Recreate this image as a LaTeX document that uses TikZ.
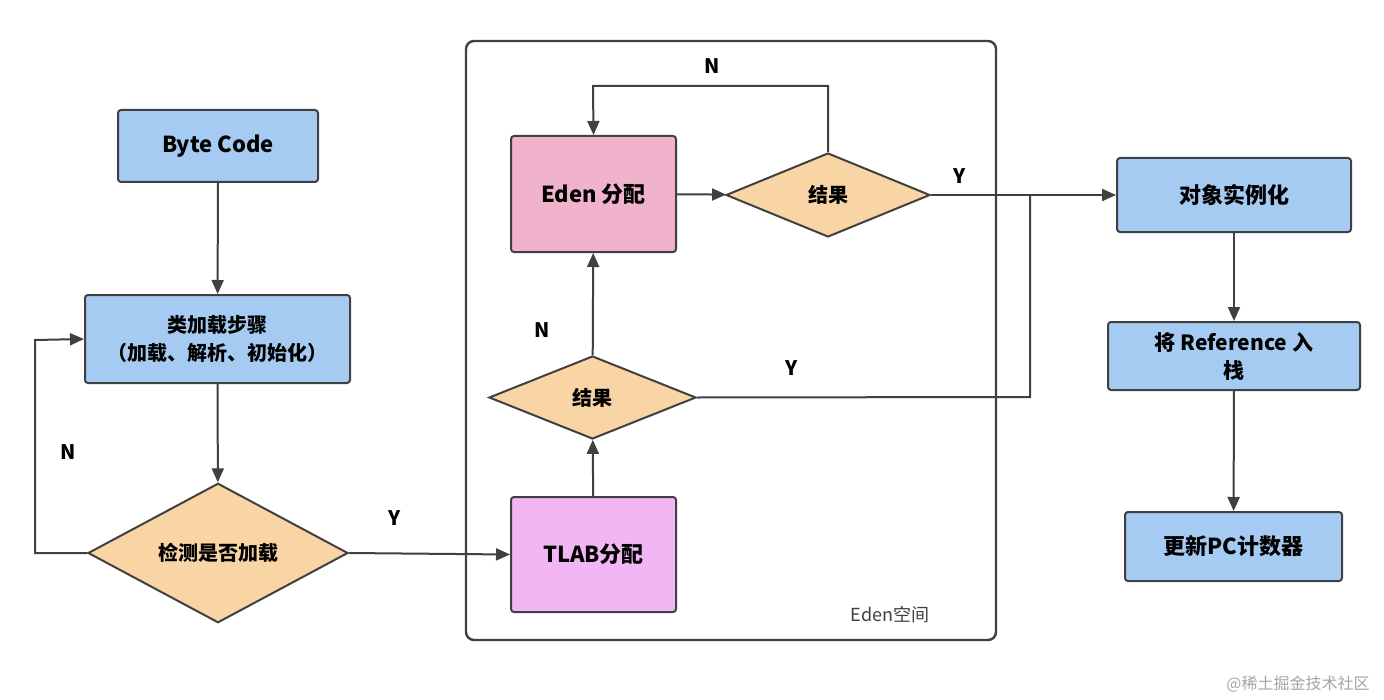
\documentclass[tikz,border=0pt]{standalone}
\usepackage{fontspec}
\setmainfont{Noto Sans CJK SC}
\usetikzlibrary{arrows.meta,shapes.geometric}
\definecolor{bl}{HTML}{A6CBF3}
\definecolor{pk}{HTML}{F1B3CB}
\definecolor{mg}{HTML}{F3B6F5}
\definecolor{dm}{HTML}{F9D5A5}
\definecolor{ln}{HTML}{404040}
\begin{document}
\begin{tikzpicture}[x=0.5pt,y=-0.5pt,
 box/.style={draw=ln,line width=1pt,rounded corners=1.5pt,align=center,font=\bfseries\fontsize{11}{14}\selectfont,inner sep=0pt},
 dia/.style={draw=ln,line width=1pt,diamond,fill=dm,font=\bfseries\fontsize{10}{12}\selectfont,inner sep=0pt},
 ar/.style={draw=ln,line width=1pt,-{Triangle[length=7pt,width=6pt]}},
 lb/.style={font=\bfseries\fontsize{10}{12}\selectfont}]
\useasboundingbox (0,0) rectangle (1384,700);
\fill[white] (0,0) rectangle (1384,700);
\draw[ln,line width=1.2pt,rounded corners=4pt] (466,41) rectangle (996,640);
\node[font=\fontsize{9}{11}\selectfont,text=ln] (es) at (890,615) {Eden空间};
\node[box,fill=bl,minimum width=100pt,minimum height=36pt] (bc) at (218,146) {Byte Code};
\node[box,fill=bl,minimum width=132.5pt,minimum height=44pt,font=\bfseries\fontsize{10}{14}\selectfont] (cl) at (217.5,339) {类加载步骤\\（加载、解析、初始化）};
\node[dia,minimum width=130pt,minimum height=60pt] (ck) at (218,553) {检测是否加载};
\node[box,fill=pk,minimum width=82.5pt,minimum height=58pt] (ed) at (593.5,194) {Eden 分配};
\node[dia,minimum width=102pt,minimum height=42pt] (r1) at (828,195) {结果};
\node[dia,minimum width=103.5pt,minimum height=41.5pt] (r2) at (592.5,397.5) {结果};
\node[box,fill=mg,minimum width=82.5pt,minimum height=57.5pt] (tl) at (593.5,554.5) {TLAB分配};
\node[box,fill=bl,minimum width=117pt,minimum height=37pt] (ob) at (1234,195) {对象实例化};
\node[box,fill=bl,minimum width=126pt,minimum height=34pt,font=\bfseries\fontsize{10.5}{14}\selectfont] (rf) at (1234,356) {将 Reference 入\\栈};
\node[box,fill=bl,minimum width=108.5pt,minimum height=34.5pt] (pc) at (1233.5,546.5) {更新PC计数器};
\node[font=\fontsize{8}{10}\selectfont,text=gray!70] (wm) at (1298,684) {@稀土掘金技术社区};
\draw[ar] (bc) -- (cl);
\draw[ar] (cl) -- (ck);
\draw[ar] (ck.west) -- (35,553) -- (35,340) -- (cl.west);
\node[lb] (n1) at (68,452) {N};
\draw[ar] (ck.east) -- (tl.west);
\node[lb] (y1) at (395,518) {Y};
\draw[ar] (tl) -- (r2);
\draw[ar] (r2) -- (ed);
\node[lb] (n2) at (542,330) {N};
\draw[ar] (ed) -- (r1);
\draw[ar] (r1.north) -- (828,86) -- (593,86) -- (ed.north);
\node[lb] (n3) at (712,66) {N};
\coordinate (j) at (1030,195);
\draw[ar] (r1.east) -- (ob.west);
\node[lb] (y2) at (960,176) {Y};
\draw[ln,line width=1pt] (r2.east) -- (1030,397) -- (j);
\node[lb] (y3) at (792,368) {Y};
\draw[ar] (ob) -- (rf);
\draw[ar] (rf) -- (pc);
\end{tikzpicture}
\end{document}
